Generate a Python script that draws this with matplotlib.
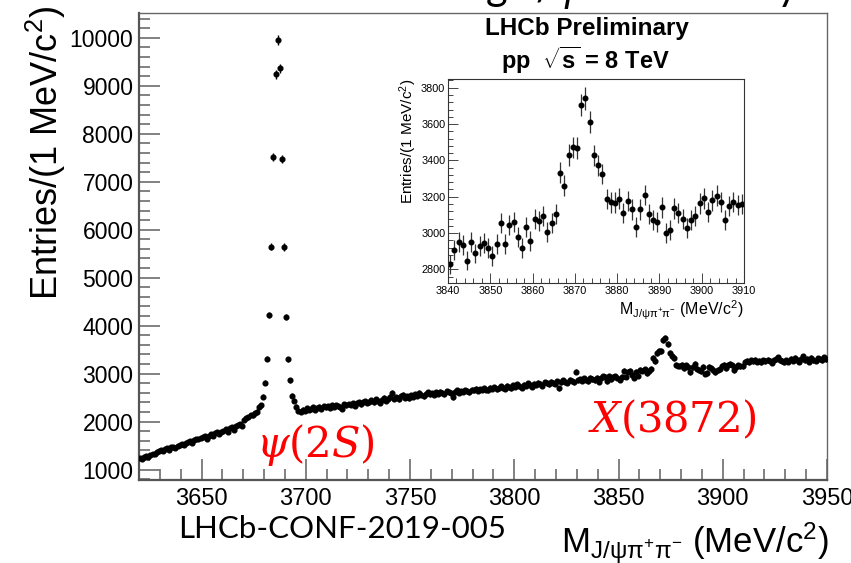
import numpy as np
import matplotlib
matplotlib.use("Agg")
import matplotlib.pyplot as plt

plt.rcParams['font.family'] = ['Liberation Sans', 'DejaVu Sans']
plt.rcParams['mathtext.fontset'] = 'custom'
plt.rcParams['mathtext.rm'] = 'Liberation Sans'
plt.rcParams['mathtext.it'] = 'Liberation Sans:italic'
plt.rcParams['mathtext.bf'] = 'Liberation Sans:bold'

# ---- data : entries per 1 MeV bin ----
mass_lo, mass_hi = 3620, 3950

bkg_low = [  # 3620 - 3675
    1240, 1225, 1270, 1290, 1265, 1310, 1335, 1320, 1370, 1385,
    1400, 1385, 1430, 1450, 1420, 1465, 1480, 1455, 1500, 1520,
    1540, 1510, 1560, 1585, 1600, 1560, 1620, 1645, 1630, 1660,
    1690, 1700, 1640, 1710, 1735, 1700, 1760, 1780, 1745, 1790,
    1810, 1840, 1790, 1860, 1880, 1820, 1900, 1930, 1950, 1920,
    2030, 2080, 2100, 2140, 2130, 2180,
]
psi2s_peak = [  # 3676 - 3699
    2210, 2300, 2340, 2520, 2812, 3312, 4229, 5645, 7520, 9237,
    9951, 9360, 7466, 5640, 4180, 3300, 2862, 2541, 2437, 2310,
    2230, 2200, 2250, 2230,
]
bkg_mid = [  # 3700 - 3839
    2280, 2250, 2270, 2300, 2240, 2290, 2310, 2270, 2320, 2300,
    2330, 2290, 2340, 2310, 2350, 2320, 2300, 2260, 2360, 2340,
    2370, 2350, 2390, 2330, 2380, 2410, 2360, 2400, 2430, 2390,
    2420, 2450, 2400, 2470, 2430, 2390, 2460, 2500, 2440, 2480,
    2520, 2600, 2480, 2510, 2470, 2540, 2560, 2500, 2530, 2490,
    2550, 2520, 2570, 2540, 2600, 2560, 2530, 2580, 2610, 2570,
    2590, 2560, 2610, 2580, 2620, 2600, 2570, 2630, 2610, 2590,
    2510, 2620, 2650, 2600, 2640, 2620, 2660, 2630, 2610, 2670,
    2650, 2690, 2640, 2680, 2660, 2700, 2670, 2650, 2710, 2690,
    2720, 2680, 2700, 2740, 2710, 2690, 2750, 2720, 2700, 2760,
    2730, 2780, 2740, 2710, 2770, 2750, 2800, 2760, 2730, 2790,
    2770, 2810, 2790, 2750, 2820, 2800, 2780, 2830, 2810, 2790,
    2840, 2700, 2820, 2860, 2830, 2810, 2870, 2850, 2820, 3040,
    2860, 2880, 2850, 2900, 2870, 2840, 2910, 2890, 2860, 2920,
]
x3872_region = [  # 3840 - 3909 (zoomed inset)
    2828, 2906, 2949, 2934, 2848, 2949, 2888, 2930, 2947, 2916,
    2873, 2939, 3055, 2939, 3044, 3062, 2976, 2916, 3035, 2958,
    3079, 3064, 3094, 3007, 3057, 3103, 3332, 3261, 3429, 3472,
    3468, 3705, 3741, 3613, 3428, 3374, 3325, 3187, 3169, 3167,
    3189, 3112, 3176, 3130, 3035, 3130, 3209, 3103, 3072, 3059,
    3141, 2998, 3017, 3136, 3112, 3077, 3028, 3072, 3094, 3163,
    3191, 3114, 3180, 3206, 3171, 3072, 3149, 3171, 3156, 3160,
]
bkg_high = [  # 3910 - 3949
    3250, 3270, 3240, 3280, 3260, 3290, 3250, 3270, 3240, 3280,
    3260, 3290, 3270, 3230, 3280, 3300, 3340, 3290, 3260, 3240,
    3280, 3250, 3310, 3270, 3330, 3290, 3250, 3300, 3360, 3280,
    3310, 3250, 3330, 3290, 3270, 3320, 3300, 3280, 3340, 3310,
]

counts = np.array(bkg_low + psi2s_peak + bkg_mid + x3872_region + bkg_high, float)
centers = np.arange(mass_lo, mass_hi) + 0.5
inset_lo, inset_hi = 3840, 3910
inset_counts = np.array(x3872_region, float)
inset_centers = np.arange(inset_lo, inset_hi) + 0.5

W, H = 851, 563
fig = plt.figure(figsize=(W / 100, H / 100), dpi=100)
fig.patch.set_facecolor("white")


def fx(px):
    return px / W


def fy(py):
    return 1 - py / H


# ---- main histogram ----
ax = fig.add_axes([fx(139), fy(480), fx(827) - fx(139), fy(13) - fy(480)])
ax.errorbar(centers, counts, yerr=np.sqrt(counts), fmt='o', ms=3.4,
            color='black', ecolor='black', elinewidth=1.0, capsize=0,
            zorder=3)
ax.set_xlim(mass_lo, mass_hi)
ax.set_ylim(785, 10515)
ax.set_xticks(np.arange(3650, 3951, 50))
ax.set_xticks(np.arange(3620, 3951, 10), minor=True)
ax.set_yticks(np.arange(1000, 10001, 1000))
ax.set_yticks(np.arange(800, 10501, 200), minor=True)
ax.tick_params(which='both', direction='in', top=False, right=False,
               color='#777777', width=1.3)
ax.tick_params(which='major', length=15, labelsize=16.5, pad=4)
ax.tick_params(axis='x', which='major', labelsize=17, pad=6)
ax.tick_params(which='minor', length=8)
for s in ('left', 'bottom'):
    ax.spines[s].set_color('#555555')
    ax.spines[s].set_linewidth(1.6)
for s in ('top', 'right'):
    ax.spines[s].set_color('#666666')
    ax.spines[s].set_linewidth(1.0)

fig.text(fx(46), fy(153), "Entries/(1 MeV/c$^{2}$)", rotation=90,
         ha='center', va='center', fontsize=26)
fig.text(fx(829), fy(553), r"M$_{\mathrm{J/\psi\pi^{+}\pi^{-}}}$ (MeV/c$^{2}$)",
         ha='right', va='baseline', fontsize=25)
fig.text(fx(178), fy(538), "LHCb-CONF-2019-005", ha='left', va='baseline',
         fontsize=22.5, family='Lato')

# slide title above the picture, only its lowest strokes fall inside
fig.text(fx(800), fy(1), r"using J/$\psi\pi^{+}\pi^{-}$ decay", ha='right',
         va='baseline', fontsize=30, family='Lato')

fig.text(fx(256), fy(457), r"$\psi(2S)$", color='red', fontsize=30,
         ha='left', va='baseline', math_fontfamily='dejavuserif')
fig.text(fx(588), fy(432), r"$X(3872)$", color='red', fontsize=30,
         ha='left', va='baseline', math_fontfamily='dejavuserif')

# ---- inset zoom on X(3872) ----
axin = fig.add_axes([fx(448), fy(283), fx(744) - fx(448), fy(79) - fy(283)])
axin.set_facecolor('white')
axin.errorbar(inset_centers, inset_counts, yerr=np.sqrt(inset_counts),
              fmt='o', ms=3.3, color='black', ecolor='#333333',
              elinewidth=0.9, capsize=0)
axin.set_xlim(inset_lo, inset_hi)
axin.set_ylim(2725, 3848)
axin.set_xticks(np.arange(3840, 3911, 10))
axin.set_xticks(np.arange(3840, 3911, 2), minor=True)
axin.set_yticks(np.arange(2800, 3801, 200))
axin.set_yticks(np.arange(2760, 3841, 40), minor=True)
axin.tick_params(which='both', direction='in', top=False, right=False,
                 color='#444444', width=0.7)
axin.tick_params(which='major', length=7, labelsize=7.8, pad=2)
axin.tick_params(which='minor', length=3.5)
for s in axin.spines.values():
    s.set_linewidth(0.8)
    s.set_color('#333333')

fig.text(fx(587), fy(28), "LHCb Preliminary", ha='center', va='center',
         fontsize=17.5, fontweight='bold')
fig.text(fx(585), fy(60), r"pp  $\sqrt{\mathbf{s}}$ = 8 TeV", ha='center',
         va='center', fontsize=17, fontweight='bold')
fig.text(fx(408), fy(141), "Entries/(1 MeV/c$^{2}$)", rotation=90,
         ha='center', va='center', fontsize=11)
fig.text(fx(743), fy(310), r"M$_{\mathrm{J/\psi\pi^{+}\pi^{-}}}$ (MeV/c$^{2}$)",
         ha='right', va='center', fontsize=11.5)

fig.savefig("out.png", dpi=100)
